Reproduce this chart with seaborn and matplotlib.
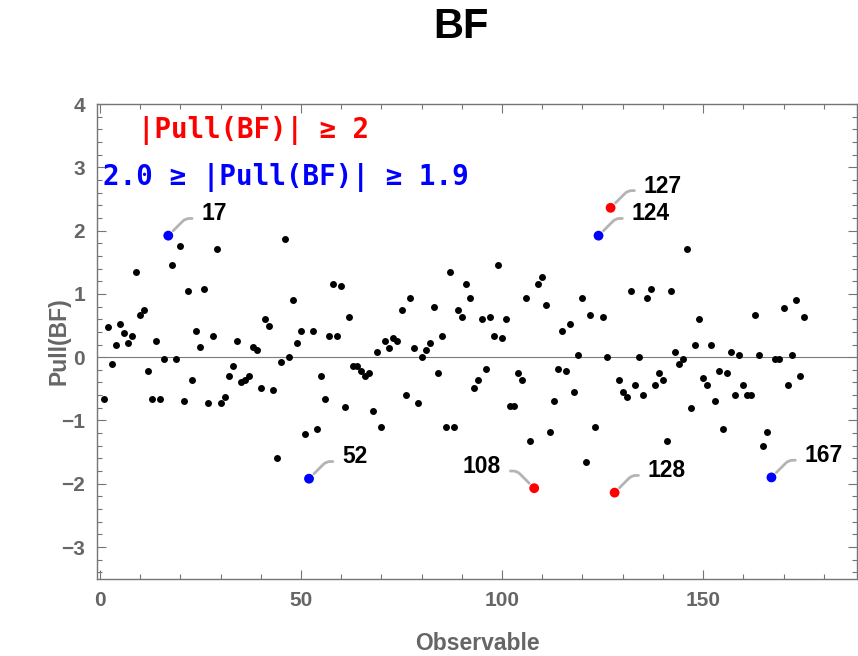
import numpy as np
import pandas as pd
import matplotlib
matplotlib.use("Agg")
import matplotlib.pyplot as plt
import seaborn as sns
from matplotlib.ticker import MultipleLocator, FixedLocator

# ---------------- data ----------------
observable = list(range(1, 176))
pull = [
    -0.66, 0.48, -0.10, 0.19, 0.53, 0.38, 0.23, 0.34, 1.34, 0.67,
    0.75, -0.22, -0.66, 0.26, -0.66, -0.03, 1.92, 1.45, -0.03, 1.75,
    -0.70, 1.04, -0.36, 0.42, 0.16, 1.08, -0.73, 0.34, 1.71, -0.73,
    -0.63, -0.29, -0.14, 0.26, -0.40, -0.36, -0.29, 0.16, 0.12, -0.48,
    0.60, 0.49, -0.52, -1.59, -0.07, 1.87, 0.01, 0.90, 0.23, 0.42,
    -1.22, -1.92, 0.42, -1.14, -0.29, -0.66, 0.34, 1.16, 0.34, 1.12,
    -0.78, 0.64, -0.14, -0.14, -0.22, -0.29, -0.25, -0.85, 0.08, -1.11,
    0.26, 0.15, 0.30, 0.26, 0.75, -0.59, 0.93, 0.15, -0.73, 0.01,
    0.12, 0.23, 0.79, -0.25, 0.34, -1.11, 1.34, -1.11, 0.75, 0.64,
    1.16, 0.94, -0.48, -0.36, 0.60, -0.18, 0.64, 0.34, 1.45, 0.31,
    0.60, -0.77, -0.77, -0.25, -0.36, 0.94, -1.33, -2.07, 1.16, 1.27,
    0.82, -1.18, -0.70, -0.18, 0.42, -0.22, 0.53, -0.55, 0.04, 0.93,
    -1.66, 0.67, -1.11, 1.92, 0.64, 0.00, 2.36, -2.14, -0.36, -0.55,
    -0.63, 1.05, -0.44, 0.00, -0.59, 0.93, 1.08, -0.44, -0.25, -0.36,
    -1.33, 1.05, 0.08, -0.10, -0.03, 1.71, -0.81, 0.19, 0.60, -0.33,
    -0.44, 0.19, -0.70, -0.22, -1.14, -0.25, 0.08, -0.59, 0.04, -0.44,
    -0.59, -0.59, 0.67, 0.04, -1.40, -1.18, -1.90, -0.03, -0.03, 0.78,
    -0.44, 0.04, 0.90, -0.29, 0.64,
]
red_ids = [108, 127, 128]
blue_ids = [17, 52, 124, 167]
left_label_ids = [108]

title = "BF"
x_label = "Observable"
y_label = "Pull(BF)"
legend_red = "|Pull(BF)| \u2265 2"
legend_blue = "2.0 \u2265 |Pull(BF)| \u2265 1.9"
x_ticks = [0, 50, 100, 150]
y_ticks = [-3, -2, -1, 0, 1, 2, 3, 4]

# ---------------- style ----------------
sns.set_style("white")
plt.rcParams["font.family"] = ["Liberation Sans", "DejaVu Sans"]
plt.rcParams["axes.unicode_minus"] = True

frame_col = "#757575"
label_col = "#666666"

df = pd.DataFrame({"Observable": observable, "Pull": pull})
df["group"] = np.where(df["Observable"].isin(red_ids), "red",
                       np.where(df["Observable"].isin(blue_ids), "blue", "black"))

W, H = 858, 656
fig = plt.figure(figsize=(W / 100, H / 100), dpi=100)
ax_l, ax_r, ax_t, ax_b = 96.7, 857.5, 104.0, 578.7
ax = fig.add_axes([ax_l / W, 1 - ax_b / H, (ax_r - ax_l) / W, (ax_b - ax_t) / H])

ax.axhline(0, color="#7a7a7a", lw=0.8, zorder=1)

sns.scatterplot(data=df[df["group"] == "black"], x="Observable", y="Pull",
                color="black", s=25, linewidth=0, ax=ax, zorder=3, legend=False)
sns.scatterplot(data=df[df["group"] != "black"], x="Observable", y="Pull",
                hue="group", palette={"red": "#ff0000", "blue": "#0000ff"},
                s=50, linewidth=0, ax=ax, zorder=4, legend=False)

# callouts
for oid in red_ids + blue_ids:
    yv = pull[observable.index(oid)]
    left = oid in left_label_ids
    ax.annotate(
        str(oid), xy=(oid, yv),
        xytext=(-24 if left else 24, 11), textcoords="offset points",
        ha="right" if left else "left", va="baseline",
        fontsize=16.5, fontweight="bold", color="black", zorder=5,
        arrowprops=dict(arrowstyle="-", color="#b4b4b4", lw=2,
                        shrinkA=4.5, shrinkB=5,
                        relpos=(1 if left else 0, 0.3),
                        connectionstyle="angle,angleA=0,angleB=%d,rad=4"
                        % (135 if left else 45)),
    )

# legend-like texts
ax.text(0.054, 0.928, legend_red, transform=ax.transAxes,
        family=["DejaVu Sans Mono"], weight="bold", size=19.8,
        color="#ff0000", ha="left", va="baseline")
ax.text(0.0083, 0.829, legend_blue, transform=ax.transAxes,
        family=["DejaVu Sans Mono"], weight="bold", size=19.9,
        color="#0000ff", ha="left", va="baseline")

# axes
ax.set_xlim(-0.8, 188.4)
ax.set_ylim(-3.5, 4.0)
ax.xaxis.set_major_locator(FixedLocator(x_ticks))
ax.xaxis.set_minor_locator(MultipleLocator(10))
ax.yaxis.set_major_locator(FixedLocator(y_ticks))
ax.yaxis.set_minor_locator(MultipleLocator(0.2))
ax.tick_params(which="both", direction="in", top=True, right=True,
               bottom=True, left=True, color=frame_col)
ax.tick_params(which="major", length=6.3, width=0.8)
ax.tick_params(which="minor", length=3.8, width=0.8)
ax.tick_params(axis="x", which="major", pad=9, labelsize=15, labelcolor=label_col)
ax.tick_params(axis="y", which="major", pad=8.4, labelsize=15, labelcolor=label_col)
for lab in ax.get_xticklabels() + ax.get_yticklabels():
    lab.set_fontweight("bold")
for sp in ax.spines.values():
    sp.set_color(frame_col)
    sp.set_linewidth(1.0)
    sp.set_visible(True)

ax.set_xlabel(x_label, fontsize=16.5, fontweight="bold", color=label_col)
ax.set_ylabel(y_label, fontsize=16.5, fontweight="bold", color=label_col)
ax.xaxis.label.set_va("baseline")
ax.xaxis.set_label_coords(0.5, (ax_b - 650) / (ax_b - ax_t))
ax.yaxis.label.set_va("baseline")
ax.yaxis.set_label_coords((65.5 - ax_l) / (ax_r - ax_l), 0.5)

fig.text(461 / W, 1 - 38.3 / H, title, ha="center", va="baseline",
         fontsize=30, fontweight="bold", color="black")

fig.savefig("out.png", dpi=100)
